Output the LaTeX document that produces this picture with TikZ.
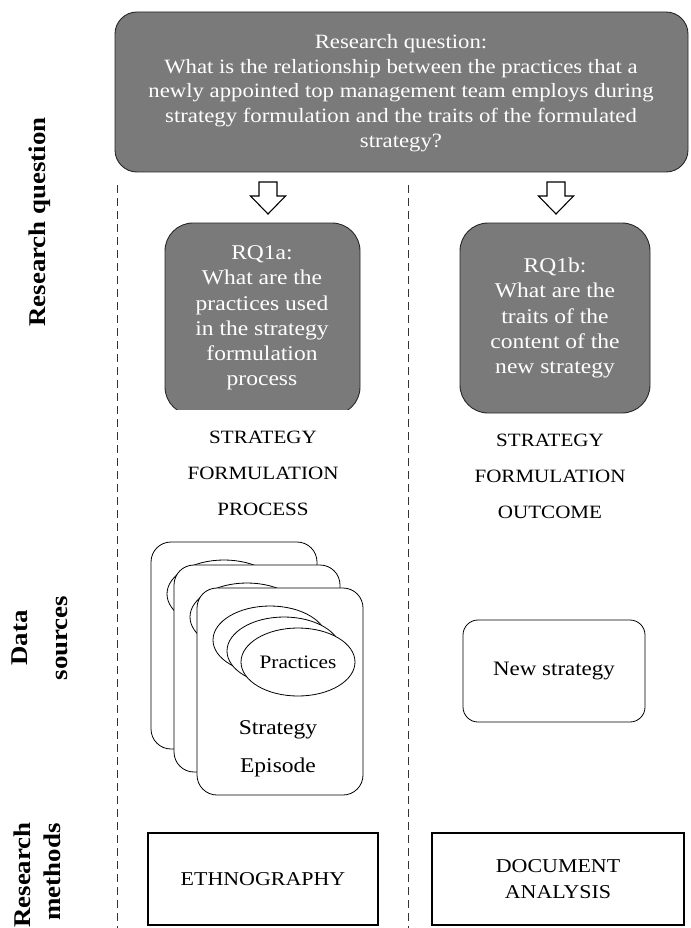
\documentclass[tikz,border=0pt]{standalone}
\usepackage{fontspec}
\setmainfont{Liberation Serif}[FakeStretch=1.12]
\begin{document}
\begin{tikzpicture}[x=1pt,y=1pt,
  graybox/.style={draw=black!85, line width=0.9pt, fill=black!52, rounded corners=22pt},
  qtext/.style={text=white, align=center, font=\fontsize{20.3}{24.7}\selectfont},
  subqtext/.style={text=white, align=center, font=\fontsize{21}{25.2}\selectfont},
  capstext/.style={align=center, font=\fontsize{18.8}{36}\selectfont},
  card/.style={draw=black, line width=0.8pt, fill=white, rounded corners=20pt},
  ell/.style={draw=black, line width=0.8pt, fill=white},
  methodbox/.style={draw=black, line width=1.8pt, fill=white},
  sidelabel/.style={rotate=90, align=center, font=\fontsize{24}{26}\selectfont\bfseries},
  openarrow/.style={draw=black, line width=1.1pt, fill=white},
  divider/.style={draw=black!80, line width=0.7pt, dash pattern=on 8pt off 5pt}
]
\useasboundingbox (0,0) rectangle (690,-928);

% dividers
\coordinate (d1t) at (117,-185); \coordinate (d1b) at (117,-928);
\coordinate (d2t) at (408,-185); \coordinate (d2b) at (408,-928);
\draw[divider] (d1t) -- (d1b);
\draw[divider] (d2t) -- (d2b);

% main research question
\path[graybox] (115,-12) rectangle (688,-172);
\node[qtext] (rq) at (401,-93) {Research question:\\What is the relationship between the practices that a\\newly appointed top management team employs during\\strategy formulation and the traits of the formulated\\strategy?};

% open arrows
\foreach \cx/\nm in {268/a1,556/a2}{
  \draw[openarrow] (\cx-9,-182) -- (\cx+9,-182) -- (\cx+9,-196) -- (\cx+17.5,-196) -- (\cx,-214) -- (\cx-17.5,-196) -- (\cx-9,-196) -- cycle;
}

% sub questions
\begin{scope}
  \clip (150,-215) rectangle (380,-409);
  \path[graybox, rounded corners=28pt] (165,-223) rectangle (360,-415);
\end{scope}
\node[subqtext] (rqa) at (262,-318) {RQ1a:\\What are the\\practices used\\in the strategy\\formulation\\process};
\path[graybox, rounded corners=28pt] (460,-223) rectangle (650,-413);
\node[subqtext] (rqb) at (555,-318) {RQ1b:\\What are the\\traits of the\\content of the\\new strategy};

% category labels
\node[capstext] (cl) at (263,-473) {STRATEGY\\FORMULATION\\PROCESS};
\node[capstext] (cr) at (550,-476) {STRATEGY\\FORMULATION\\OUTCOME};

% stacked cards
\foreach \ox/\oy in {151/542,174/565,197/588}{
  \path[card] (\ox,-\oy) rectangle (\ox+166,-\oy-207);
  \path[ell] (\ox+73,-\oy-52) ellipse [x radius=57, y radius=34];
  \path[ell] (\ox+87,-\oy-63) ellipse [x radius=57, y radius=34];
  \path[ell] (\ox+101,-\oy-74) ellipse [x radius=57, y radius=34];
}
\node[font=\fontsize{19}{22}\selectfont] (prac) at (298,-662) {Practices};
\node[align=center, font=\fontsize{21}{38}\selectfont] (ep) at (278,-749) {Strategy\\Episode};

% new strategy
\node[draw=black, line width=0.8pt, rounded corners=15pt, minimum width=182pt, minimum height=102pt, font=\fontsize{20.5}{22}\selectfont] (ns) at (554,-671) {New strategy};

% methods
\node[methodbox, minimum width=230pt, minimum height=92pt, font=\fontsize{19.6}{22}\selectfont] (eth) at (263,-879) {ETHNOGRAPHY};
\node[methodbox, minimum width=252pt, minimum height=92pt, align=center, font=\fontsize{19.6}{26}\selectfont] (doc) at (558,-879) {DOCUMENT\\ANALYSIS};

% side labels
\node[sidelabel] (sl1) at (40,-222) {Research question};
\node[sidelabel] (sl2a) at (20,-638) {Data};
\node[sidelabel] (sl2b) at (62,-638) {sources};
\node[sidelabel] (sl3a) at (22,-875) {Research};
\node[sidelabel] (sl3b) at (52,-872) {methods};
\end{tikzpicture}
\end{document}
